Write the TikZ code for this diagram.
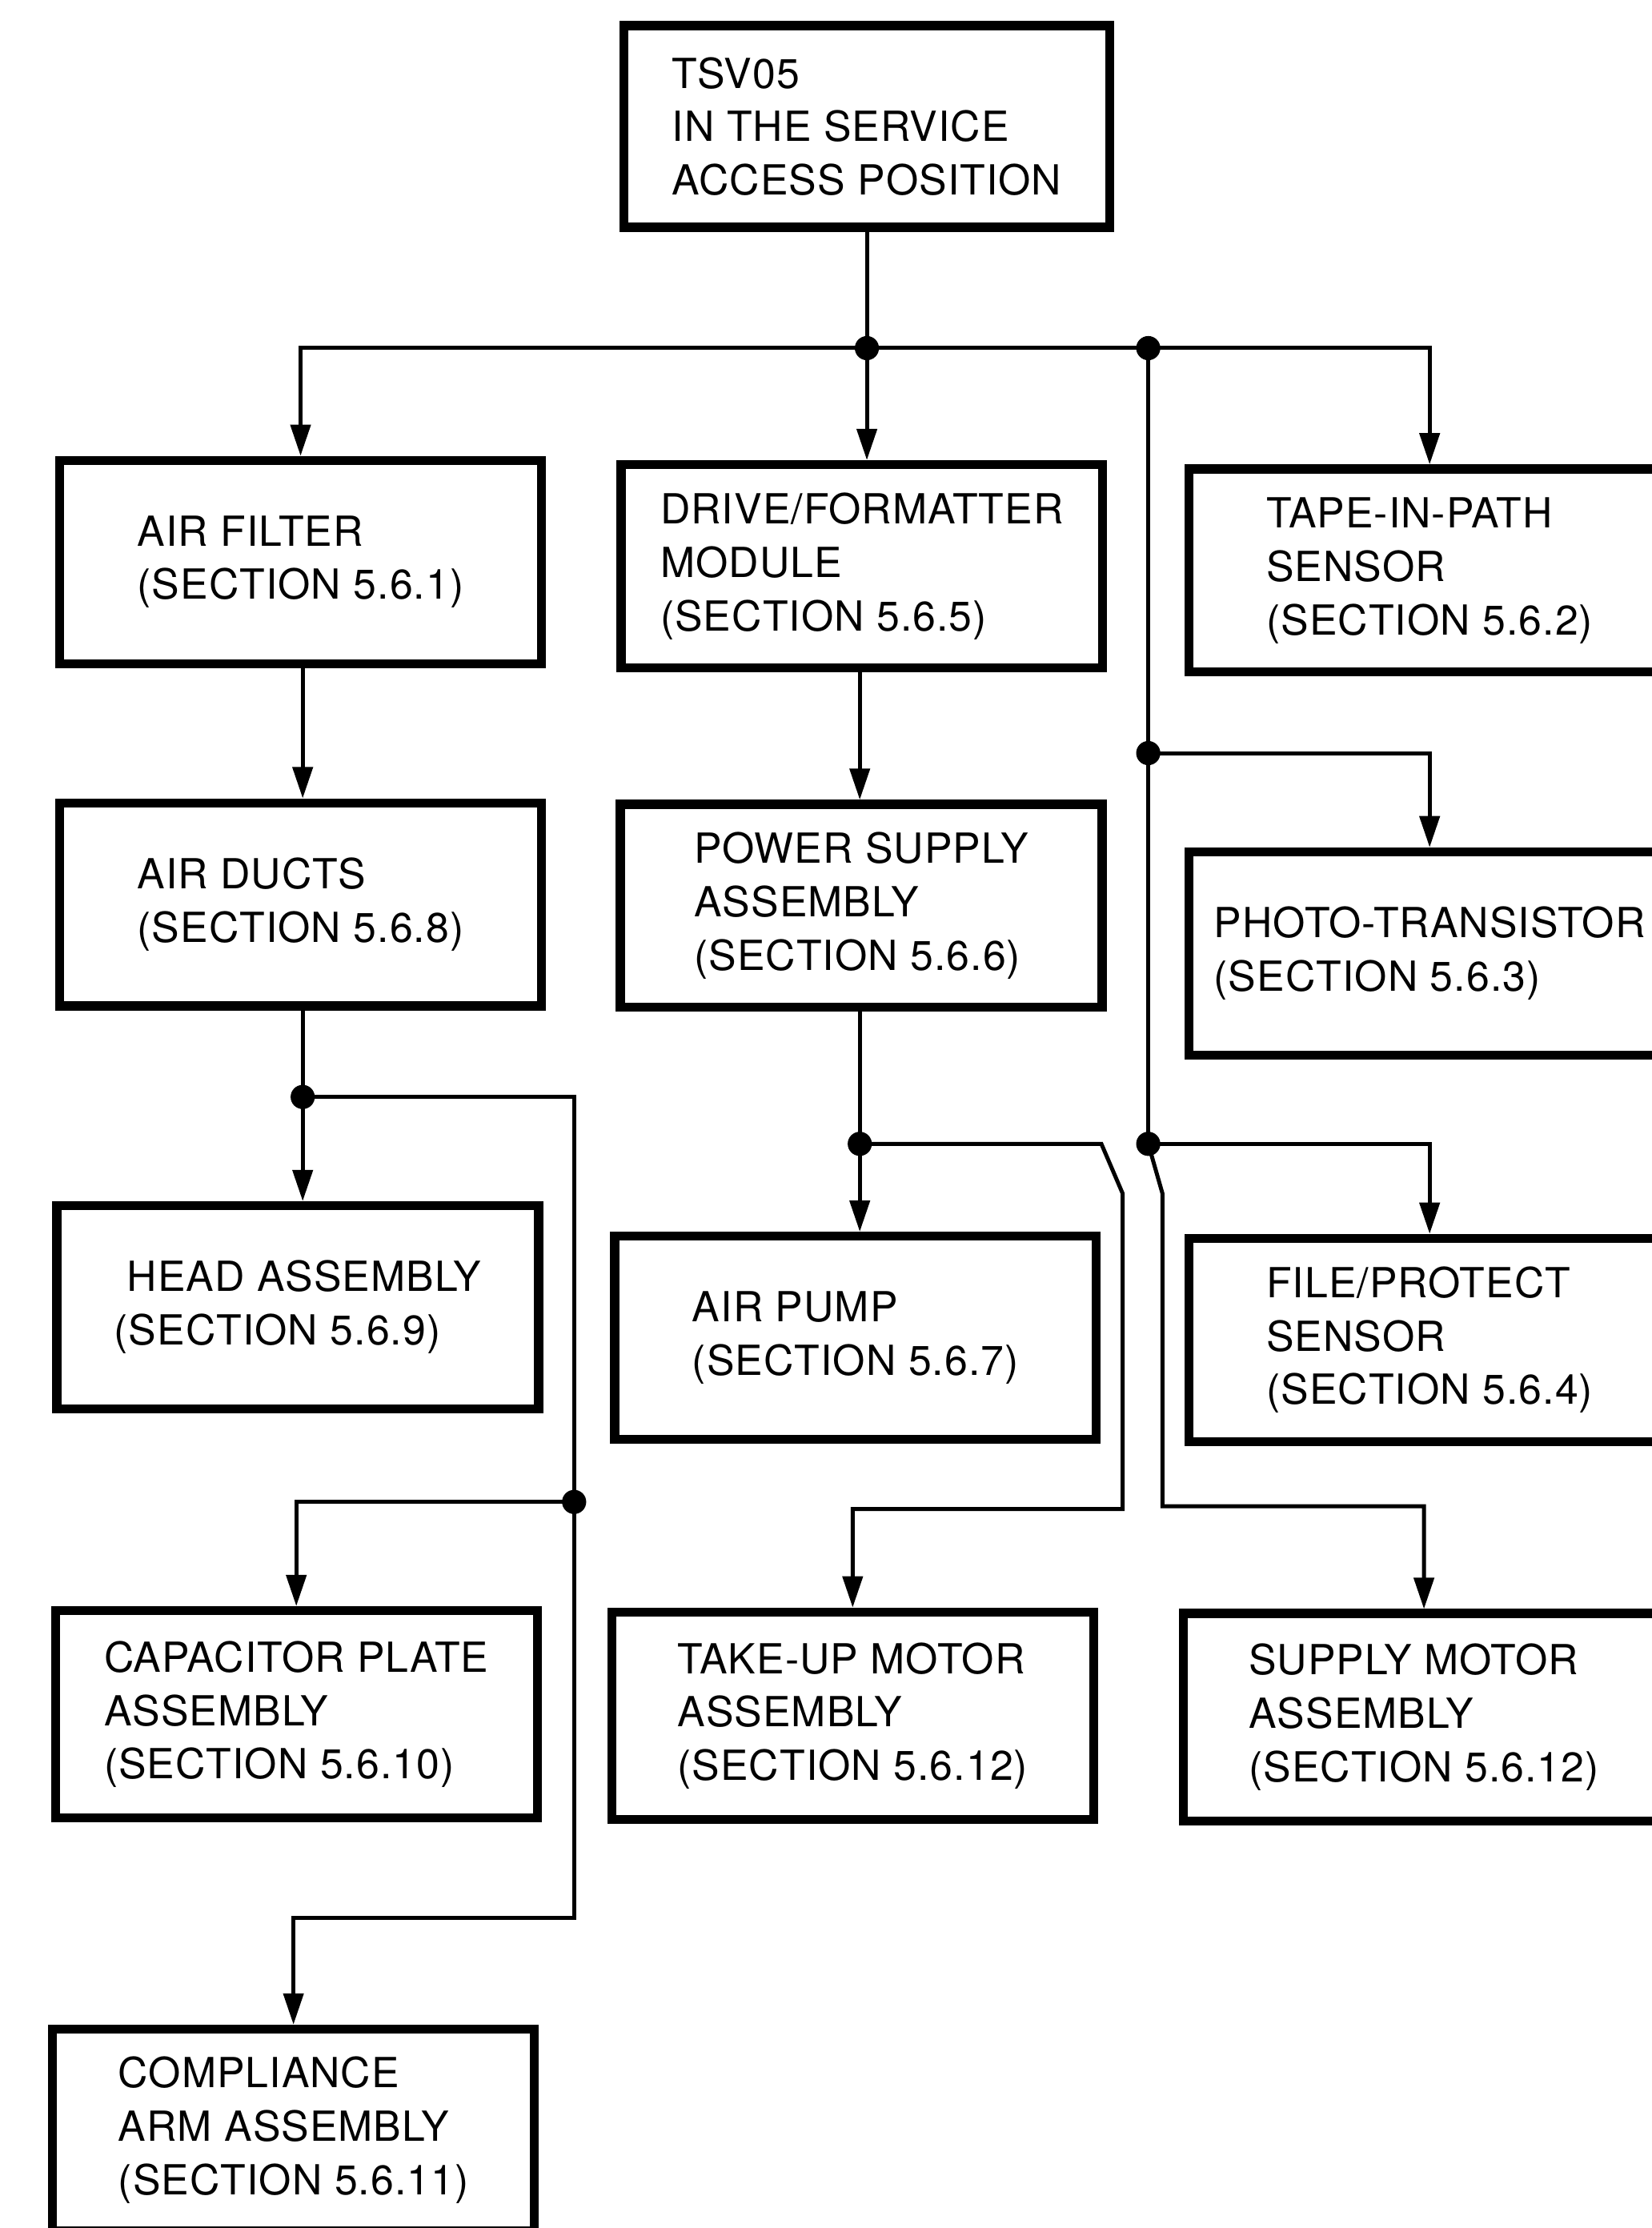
\documentclass[tikz,border=0pt]{standalone}
\usepackage{fontspec}
\setmainfont{TeX Gyre Heros}[LetterSpace=2]
\usepackage{tikz}
\usetikzlibrary{arrows.meta}
\tikzset{
  sv diagram/.style={font=\fontsize{8.3}{10.7}\selectfont},
  sv box/.style={draw, line width=1.8pt, align=left, inner sep=0pt,
    minimum width=3.39cm, minimum height=1.43cm},
  sv tall box/.style={sv box, minimum height=1.46cm},
  sv line/.style={line width=0.8pt},
  sv arrow/.style={sv line, -{Triangle[length=2.2mm,width=1.4mm]}}
}

\begin{document}
\begin{tikzpicture}[sv diagram]
\path[use as bounding box, fill=white] (0,0) rectangle (11.62,-15.68);
\node[sv box, minimum width=3.42cm, minimum height=1.42cm] (top) at (6.10,-0.89) {TSV05\\IN THE SERVICE\\ACCESS POSITION};
\node[sv box] (airfilter) at (2.115,-3.955) {AIR FILTER\\(SECTION 5.6.1)};
\node[sv box] (drive) at (6.065,-3.985) {DRIVE/FORMATTER\\MODULE\\(SECTION 5.6.5)};
\node[sv box] (tape) at (10.06,-4.015) {TAPE-IN-PATH\\SENSOR\\(SECTION 5.6.2)};
\node[sv box] (airducts) at (2.115,-6.365) {AIR DUCTS\\(SECTION 5.6.8)};
\node[sv box] (power) at (6.06,-6.375) {POWER SUPPLY\\ASSEMBLY\\(SECTION 5.6.6)};
\node[sv box] (photo) at (10.06,-6.71) {PHOTO-TRANSISTOR\\(SECTION 5.6.3)};
\node[sv box] (head) at (2.095,-9.20) {\hspace{0.9mm}HEAD ASSEMBLY\\(SECTION 5.6.9)};
\node[sv box] (airpump) at (6.02,-9.415) {AIR PUMP\\(SECTION 5.6.7)};
\node[sv box] (fileprot) at (10.06,-9.43) {FILE/PROTECT\\SENSOR\\(SECTION 5.6.4)};
\node[sv tall box] (capacitor) at (2.085,-12.065) {CAPACITOR PLATE\\ASSEMBLY\\(SECTION 5.6.10)};
\node[sv tall box] (takeup) at (6.00,-12.075) {TAKE-UP MOTOR\\ASSEMBLY\\(SECTION 5.6.12)};
\node[sv tall box] (supply) at (10.02,-12.085) {SUPPLY MOTOR\\ASSEMBLY\\(SECTION 5.6.12)};
\node[sv box, minimum height=1.42cm] (compliance) at (2.065,-14.99) {COMPLIANCE\\ARM ASSEMBLY\\(SECTION 5.6.11)};

\coordinate (j1) at (6.10,-2.45);
\coordinate (j2) at (8.08,-2.45);
\coordinate (j3) at (8.08,-5.30);
\coordinate (j4) at (8.08,-8.05);
\coordinate (j5) at (6.05,-8.05);
\coordinate (j6) at (2.13,-7.72);
\coordinate (j7) at (4.04,-10.57);

\draw[sv line] (top) -- (j1);
\draw[sv arrow] (j1) -| (airfilter);
\draw[sv arrow] (j1) -- (j1 |- drive.north);
\draw[sv arrow] (j1) -| (tape);
\draw[sv line] (j2) -- (j4);
\draw[sv arrow] (j3) -| (photo);
\draw[sv arrow] (j4) -| (fileprot);
\draw[sv arrow] (j4) -- ++(0.10,-0.35) -- ++(0,-2.20) -| (supply);

\draw[sv arrow] (drive.south -| j5) -- (j5 |- power.north);
\draw[sv line] (power.south -| j5) -- (j5);
\draw[sv arrow] (j5) -- (j5 |- airpump.north);
\draw[sv arrow] (j5) -- ++(1.70,0) -- ++(0.15,-0.35) -- ++(0,-2.22) -| (takeup);

\draw[sv arrow] (airfilter.south -| j6) -- (j6 |- airducts.north);
\draw[sv line] (airducts.south -| j6) -- (j6);
\draw[sv arrow] (j6) -- (j6 |- head.north);
\draw[sv line] (j6) -| (j7);
\draw[sv arrow] (j7) -| (capacitor);
\draw[sv arrow] (j7) -- ++(0,-2.93) -| (compliance);

\foreach \j in {j1,j2,j3,j4,j5,j6,j7}
  \fill (\j) circle (0.085);
\end{tikzpicture}
\end{document}
